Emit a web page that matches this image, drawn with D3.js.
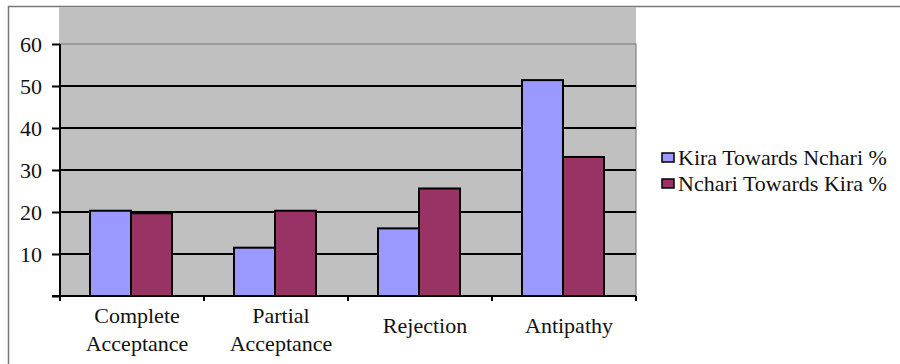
<!DOCTYPE html>
<html><head><meta charset="utf-8">
<script src="https://cdn.jsdelivr.net/npm/d3@7/dist/d3.min.js"></script>
</head><body style="margin:0"><svg id="c" width="900" height="364" font-family="Liberation Serif"></svg>
<script>
const categories = [["Complete","Acceptance"],["Partial","Acceptance"],["Rejection"],["Antipathy"]];
const seriesNames = ["Kira Towards Nchari %","Nchari Towards Kira %"];
const kira = [20.3, 11.5, 16.1, 51.4];
const nchari = [19.7, 20.3, 25.6, 33.1];
const yTicks = [10,20,30,40,50,60];
const colors = ["#9999FF","#993366"];
const FONT = "Liberation Serif";

const svg = d3.select("#c");
const L=60,R=636,T=44,B=296;
const x = d3.scaleBand().domain(d3.range(categories.length)).range([L,R]);
const xs = d3.scaleBand().domain([0,1]).range([30,112]);
const y = d3.scaleLinear().domain([0,60]).range([B,T]);

// frame
svg.append("line").attr("x1",8).attr("x2",900).attr("y1",6.5).attr("y2",6.5).attr("stroke","#777").attr("stroke-width",1.5);
svg.append("line").attr("x1",8.5).attr("x2",8.5).attr("y1",6).attr("y2",364).attr("stroke","#777").attr("stroke-width",1.5);
// plot bg
svg.append("rect").attr("x",L-1).attr("y",7).attr("width",R-L+1).attr("height",B-7).attr("fill","#C0C0C0");
svg.append("rect").attr("x",L).attr("y",T).attr("width",R-L).attr("height",B-T).attr("fill","none").attr("stroke","#808080").attr("stroke-width",1.2);

// grid
svg.append("g").selectAll("line").data(yTicks.filter(d=>d<60)).join("line")
  .attr("x1",L).attr("x2",R).attr("y1",d=>y(d)).attr("y2",d=>y(d)).attr("stroke","#000").attr("stroke-width",2);

// bars
const data = categories.map((c,i)=>[kira[i],nchari[i]]);
const g = svg.append("g");
data.forEach((vals,i)=>{
  vals.forEach((v,j)=>{
    g.append("rect").attr("x",x(i)+xs(j)).attr("y",y(v)).attr("width",xs.bandwidth()).attr("height",y(0)-y(v))
      .attr("fill",colors[j]).attr("stroke","#000").attr("stroke-width",2);
  });
});

// y axis (line + ticks via d3 axis, labels drawn separately)
const ya = d3.axisLeft(y).tickValues([0,...yTicks]).tickSize(8).tickFormat("");
const yg = svg.append("g").attr("transform",`translate(${L},0)`).call(ya);
yg.select(".domain").attr("stroke","#000").attr("stroke-width",2).attr("d",`M0,${T}V${B+4}`);
yg.selectAll(".tick line").attr("stroke","#000").attr("stroke-width",2);
svg.append("g").selectAll("text").data(yTicks).join("text")
  .attr("x",L-18).attr("y",d=>y(d)).attr("dy","0.35em").attr("text-anchor","end").attr("fill","#111")
  .attr("font-family",FONT).attr("font-size",22).text(d=>d);

// x axis
const xg = svg.append("g");
xg.append("line").attr("x1",L-8).attr("x2",R).attr("y1",B).attr("y2",B).attr("stroke","#000").attr("stroke-width",2);
xg.selectAll("line.t").data(d3.range(categories.length+1)).join("line").attr("class","t")
  .attr("x1",d=>L+d*x.step()).attr("x2",d=>L+d*x.step()).attr("y1",B).attr("y2",B+5).attr("stroke","#000").attr("stroke-width",2);
categories.forEach((d,i)=>{
  d.forEach((t,k)=>{
    svg.append("text").attr("x",x(i)+x.bandwidth()/2+5).attr("y",(d.length===2?323:333)+k*28)
      .attr("text-anchor","middle").attr("fill","#111")
      .attr("font-family",FONT).attr("font-size",22).text(t);
  });
});

// legend
seriesNames.forEach((s,i)=>{
  svg.append("rect").attr("x",662).attr("y",153+i*26).attr("width",12).attr("height",9).attr("fill",colors[i]).attr("stroke","#000").attr("stroke-width",1.5);
  svg.append("text").attr("x",678).attr("y",165+i*26).attr("fill","#111")
    .attr("font-family",FONT).attr("font-size",22).text(s);
});
</script></body></html>
